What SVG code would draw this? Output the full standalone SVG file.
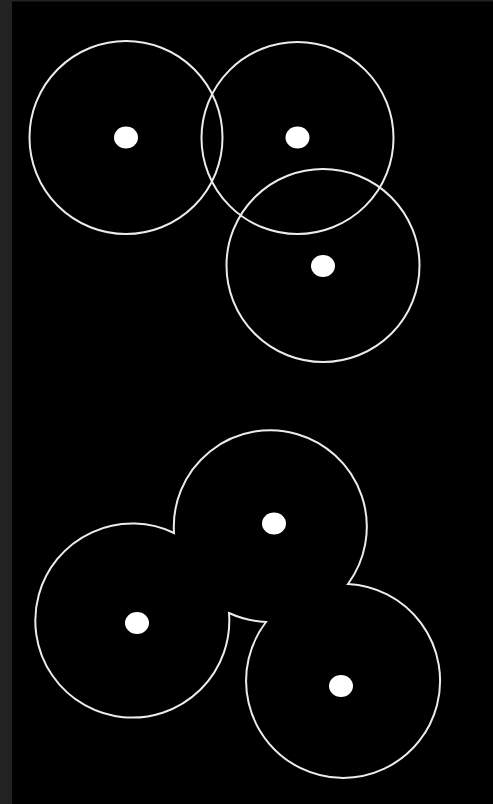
<svg xmlns="http://www.w3.org/2000/svg" width="493" height="804" viewBox="0 0 493 804">
<style>
.ring{fill:none;stroke:#ececec;stroke-width:2}
.dot{fill:#ffffff}
</style>
<rect x="0" y="0" width="493" height="804" fill="#000000"/>
<rect x="0" y="0" width="12" height="804" fill="#222222"/>
<rect x="0" y="0" width="493" height="1.5" fill="#222222"/>
<g id="circle-a">
<circle class="ring" cx="126" cy="137.5" r="96.5"/>
<ellipse class="dot" cx="126" cy="137.5" rx="12" ry="11"/>
</g>
<g id="circle-b">
<circle class="ring" cx="297.5" cy="138" r="96"/>
<ellipse class="dot" cx="297.5" cy="137.5" rx="12" ry="11"/>
</g>
<g id="circle-c">
<circle class="ring" cx="323" cy="265.5" r="96.5"/>
<ellipse class="dot" cx="323" cy="266" rx="12" ry="11"/>
</g>
<g id="union">
<path class="ring" d="M174,533 A96.5,96.5 0 1 1 348,584 A97,97 0 1 1 266,622 A100,100 0 0 1 229,613 A97,97 0 1 1 174,533 Z"/>
<ellipse class="dot" cx="137" cy="623" rx="12" ry="11"/>
<ellipse class="dot" cx="274" cy="523.5" rx="12" ry="11"/>
<ellipse class="dot" cx="341" cy="686" rx="12" ry="11"/>
</g>
<g id="connectors"></g>
</svg>
